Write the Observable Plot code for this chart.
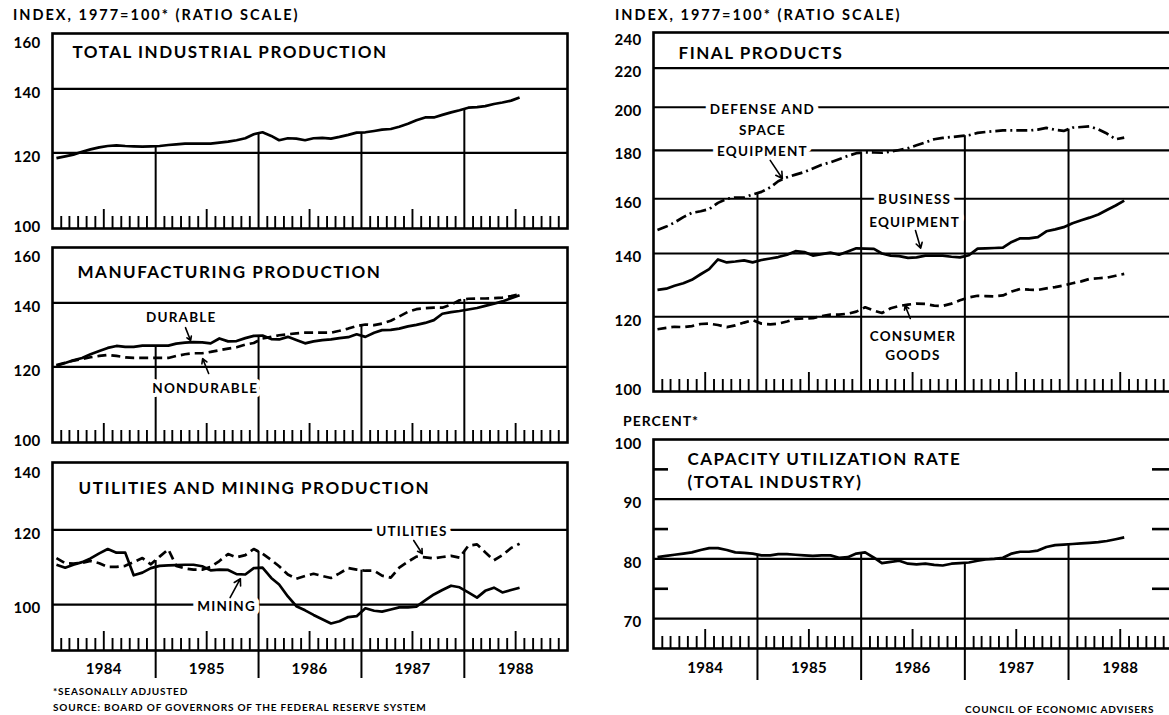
<!DOCTYPE html>
<html><head><meta charset="utf-8">
<script src="https://cdn.jsdelivr.net/npm/d3@7"></script>
<script src="https://cdn.jsdelivr.net/npm/@observablehq/plot@0.6"></script>
<style>
html,body{margin:0;padding:0;background:#fff;}
#chart{position:relative;width:1169px;height:715px;overflow:hidden;background:#fff;}
#chart g[font-family="Lato, sans-serif"]{letter-spacing:0.09em;}
#chart g[font-family="Lato, DejaVu Sans, sans-serif"]{letter-spacing:0.02em;}
</style></head><body><div id="chart"></div>
<script>
// ---------- DATA (monthly, Jan 1984 – Jul 1988) ----------
const totalIP = [118.5,119.0,119.5,120.3,121.0,121.6,122.0,122.2,122.0,121.9,121.8,121.9,
  122.0,122.3,122.5,122.7,122.7,122.7,122.7,123.0,123.3,123.7,124.3,125.5,
  126.1,125.0,123.7,124.3,124.2,123.7,124.3,124.4,124.2,124.7,125.3,126.0,
  126.1,126.5,126.9,127.1,127.8,128.7,129.8,130.7,130.7,131.5,132.3,133.0,
  133.8,134.0,134.3,135.0,135.5,136.1,137.1];
const durable = [120.3,121.1,121.9,122.6,123.7,124.7,125.6,126.2,125.9,125.9,126.3,126.3,
  126.3,126.3,126.9,127.2,127.4,127.3,127.0,128.5,127.6,127.7,128.6,129.3,
  129.4,128.3,128.2,129.0,128.0,127.0,127.6,128.0,128.2,128.6,128.9,129.8,
  129.0,130.3,131.1,131.2,131.6,132.3,132.8,133.4,134.3,136.4,136.9,137.3,
  137.8,138.3,139.0,139.7,140.5,141.6,142.6];
const nondurable = [120.5,121.2,121.8,122.3,122.8,123.2,123.5,123.2,122.8,122.6,122.6,122.6,
  122.6,122.6,123.2,123.7,124.0,124.0,124.4,124.9,125.4,125.8,126.6,127.1,
  128.5,129.0,129.5,129.8,130.1,130.3,130.3,130.3,130.3,130.9,131.6,132.4,
  132.9,132.7,133.2,134.1,135.5,137.0,137.9,138.2,138.4,138.4,139.4,140.9,
  141.4,141.5,141.5,141.6,141.8,142.3,143.0];
const utilities = [112.0,110.6,110.5,110.7,111.2,110.6,109.6,109.6,109.9,110.9,112.0,110.3,
  112.4,114.4,109.9,109.2,108.9,108.9,109.6,111.2,113.1,112.2,112.8,114.5,
  113.2,111.5,109.8,107.6,106.5,107.2,107.8,107.2,106.7,107.9,109.3,108.9,
  108.6,108.6,107.3,106.8,109.4,111.0,112.4,112.2,111.9,112.3,112.6,112.1,
  115.4,115.8,113.6,111.4,112.8,114.8,116.0];
const mining = [110.2,109.4,110.2,110.9,111.9,113.3,114.5,113.5,113.5,107.4,108.1,109.3,
  109.9,110.0,110.1,110.2,110.2,109.8,108.7,108.9,108.8,107.7,107.6,109.3,
  109.4,106.7,105.0,102.0,99.6,98.6,97.5,96.5,95.5,96.0,97.0,97.2,
  99.1,98.5,98.3,98.8,99.3,99.3,99.5,101.0,102.5,103.6,104.7,104.3,
  103.0,101.7,103.4,104.2,103.0,103.6,104.2];
const businessEq = [128.1,128.5,129.4,130.2,131.3,133.1,134.8,138.0,137.0,137.3,137.7,137.0,
  137.8,138.3,138.8,139.6,140.8,140.5,139.3,139.8,140.3,139.6,140.7,141.8,
  141.7,141.6,140.0,139.3,139.1,138.5,138.7,139.3,139.3,139.3,138.9,138.7,
  139.4,141.7,141.8,141.9,142.0,144.0,145.3,145.3,145.7,147.8,148.5,149.3,
  150.7,151.8,152.8,154.0,155.7,157.4,159.3];
const consumerGoods = [116.4,116.8,117.1,117.0,117.3,117.9,118.0,117.6,117.0,117.5,118.3,119.0,
  118.0,117.8,118.0,118.6,119.4,119.5,119.6,120.2,120.6,120.6,120.9,121.5,
  122.8,121.8,121.1,122.5,123.2,123.6,123.9,123.8,123.3,123.2,123.9,124.9,
  125.8,126.3,126.2,126.1,126.4,127.6,128.4,128.2,128.1,128.6,129.0,129.5,
  130.2,130.8,131.6,131.8,132.0,132.6,133.2];
const defenseSpace = [148.3,149.5,151.0,153.0,154.6,155.2,156.0,158.4,160.0,160.5,160.5,161.7,
  162.7,164.5,167.0,168.6,169.7,170.8,172.3,173.8,174.9,176.2,177.6,178.8,
  179.2,179.1,179.0,179.5,180.2,181.0,182.3,183.6,185.0,185.6,186.0,186.4,
  186.8,187.9,188.3,188.7,189.0,189.0,189.0,189.0,189.4,190.2,189.3,188.8,
  190.3,190.6,190.9,189.5,187.6,185.0,185.7];
const capacityUtil = [80.3,80.5,80.7,80.9,81.1,81.5,81.8,81.8,81.5,81.1,81.0,80.9,
  80.6,80.6,80.8,80.8,80.7,80.6,80.5,80.6,80.6,80.2,80.3,80.9,
  81.1,80.2,79.3,79.5,79.7,79.2,79.1,79.2,79.0,78.9,79.2,79.3,
  79.4,79.7,79.9,80.0,80.2,80.9,81.2,81.2,81.4,82.0,82.3,82.4,
  82.5,82.6,82.7,82.8,83.0,83.3,83.6];
const years = [1984, 1985, 1986, 1987, 1988];
const idxTicks = [160, 140, 120, 100];
const fpTicks = [240, 220, 200, 180, 160, 140, 120, 100];
const umTicks = [140, 120, 100];
const cuTicks = [100, 90, 80, 70];
const cuMinor = [95, 85, 75];

// ---------- helpers ----------
const chart = document.getElementById("chart");
const WORD = "Lato, sans-serif";
const NUM = "Lato, DejaVu Sans, sans-serif";
const WEIGHT = "bold";
const t0 = Date.UTC(1984, 0, 1);
const mdate = (m) => new Date(t0 + m * 30.436875 * 864e5);
const monthDates = totalIP.map((_, i) => new Date(Date.UTC(1984, i, 15)));
const ser = (vals) => vals.map((v, i) => ({date: monthDates[i], value: v}));
const monthBounds = d3.range(1, 60).map(i => new Date(Date.UTC(1984, i, 1)));
const minorTicks = monthBounds.filter(d => d.getUTCMonth() !== 0 && d.getUTCMonth() !== 6);
const julyTicks = monthBounds.filter(d => d.getUTCMonth() === 6);
const yearStarts = years.slice(1).map(y => new Date(Date.UTC(y, 0, 1)));
const yearMids = years.map(y => new Date(Date.UTC(y, 6, 1)));
const xDomain = [new Date(Date.UTC(1984, 0, 1)), new Date(Date.UTC(1989, 0, 1))];
const boundaryValue = (vals, d) => { const i = (d.getUTCFullYear() - 1984) * 12; return (vals[i - 1] + vals[i]) / 2; };

function makePanel(p) {
  const W = p.mLeft + p.frameW + p.mRight;
  const H = p.mTop + p.frameH + p.mBottom;
  const marks = [];
  marks.push(Plot.ruleY(p.grid, {stroke: "#000", strokeWidth: 2.2}));
  marks.push(Plot.ruleX(minorTicks, {x: d => d, stroke: "#000", strokeWidth: 1.9, insetTop: p.frameH - 12}));
  marks.push(Plot.ruleX(julyTicks, {x: d => d, stroke: "#000", strokeWidth: 1.9, insetTop: p.frameH - 19}));
  const yl = yearStarts.map(d => ({date: d, top: d3.max(p.series, s => boundaryValue(s.values, d))}));
  marks.push(Plot.ruleX(yl, {x: "date", y1: () => p.yDomain[0], y2: "top", stroke: "#000", strokeWidth: 2}));
  if (p.yearLabels) {
    marks.push(Plot.ruleX(yearStarts, {x: d => d, stroke: "#000", strokeWidth: 2, insetTop: p.frameH, insetBottom: -p.yearExt}));
    marks.push(Plot.text(yearMids, {x: d => d, text: d => String(d.getUTCFullYear()), frameAnchor: "bottom", lineAnchor: "bottom", dy: p.yearDy, fontSize: 15, fontWeight: WEIGHT, fontFamily: NUM, fill: "#000"}));
  }
  if (p.sideTicks) {
    marks.push(Plot.ruleY(p.sideTicks, {y: d => d, stroke: "#000", strokeWidth: 2.6, insetRight: p.frameW - 15}));
    marks.push(Plot.ruleY(p.sideTicks, {y: d => d, stroke: "#000", strokeWidth: 2.6, insetLeft: p.frameW - 20}));
  }
  for (const s of p.series) {
    marks.push(Plot.line(ser(s.values), {x: "date", y: "value", stroke: "#000", strokeWidth: 2.7, strokeDasharray: s.dash, strokeLinejoin: "round", strokeLinecap: "butt"}));
  }
  p.labels.forEach((v, i) => {
    const dy = i === 0 ? p.topDy : (v === p.yDomain[0] ? -1 : 4);
    marks.push(Plot.text([v], {y: d => d, text: d => String(d), frameAnchor: "left", textAnchor: "end", lineAnchor: "middle", dx: -12, dy, fontSize: 15, fontWeight: WEIGHT, fontFamily: NUM, fill: "#000"}));
  });
  marks.push(Plot.text([p.title], {text: d => d, frameAnchor: "top-left", textAnchor: "start", lineAnchor: "bottom", dx: p.titleDx, dy: p.titleDy, fontSize: 17, fontWeight: WEIGHT, fontFamily: WORD, lineHeight: 1.35, fill: "#000"}));
  for (const a of (p.notes || [])) {
    marks.push(Plot.text([a], {x: d => mdate(d.m), y: d => d.v, text: d => d.text, textAnchor: "middle", lineAnchor: "bottom", lineHeight: a.lh || 1.2, fontSize: 13.5, fontWeight: WEIGHT, fontFamily: WORD, fill: "#000", stroke: "#fff", strokeWidth: a.halo || 8}));
    marks.push(Plot.arrow([a], {x1: d => mdate(d.am1), y1: d => d.av1, x2: d => mdate(d.am2), y2: d => d.av2, stroke: "#000", strokeWidth: 1.6, headLength: 7}));
  }
  marks.push(Plot.frame({stroke: "#000", strokeWidth: 2.6}));
  const svg = Plot.plot({
    width: W, height: H,
    marginLeft: p.mLeft, marginRight: p.mRight, marginTop: p.mTop, marginBottom: p.mBottom,
    x: {type: "utc", domain: xDomain, axis: null},
    y: {type: p.yType, domain: p.yDomain, axis: null},
    style: {background: "transparent", overflow: "visible", color: "#000"},
    marks
  });
  svg.style.position = "absolute";
  svg.style.left = p.left + "px";
  svg.style.top = p.top + "px";
  chart.appendChild(svg);
}

// Left column
makePanel({left: 0, top: 25, mLeft: 52, frameW: 515, mRight: 4, mTop: 8, frameH: 195, mBottom: 4,
  yType: "log", yDomain: [100, 160], grid: [140, 120], labels: idxTicks, topDy: 10,
  title: "TOTAL INDUSTRIAL PRODUCTION", titleDx: 20, titleDy: 24,
  series: [{values: totalIP}]});

makePanel({left: 0, top: 239, mLeft: 52, frameW: 515, mRight: 4, mTop: 8, frameH: 195, mBottom: 4,
  yType: "log", yDomain: [100, 160], grid: [140, 120], labels: idxTicks, topDy: 10,
  title: "MANUFACTURING PRODUCTION", titleDx: 25, titleDy: 30,
  series: [{values: durable}, {values: nondurable, dash: "9,5"}],
  notes: [
    {text: "DURABLE", m: 15.0, v: 133.8, am1: 15.5, av1: 131.9, am2: 16.1, av2: 127.8, halo: 0},
    {text: "NONDURABLE", m: 17.8, v: 112.8, am1: 18.2, av1: 118.1, am2: 17.5, av2: 122.4, halo: 0}
  ]});

makePanel({left: 0, top: 454, mLeft: 52, frameW: 515, mRight: 4, mTop: 8, frameH: 188, mBottom: 30,
  yType: "log", yDomain: [89.4, 141.4], grid: [120, 100], labels: umTicks, topDy: 7,
  title: "UTILITIES AND MINING PRODUCTION", titleDx: 26, titleDy: 31,
  yearLabels: true, yearExt: 28, yearDy: 23,
  series: [{values: mining}, {values: utilities, dash: "9,5"}],
  notes: [
    {text: "UTILITIES", m: 41.9, v: 118.3, am1: 42.1, av1: 116.9, am2: 43.1, av2: 113.2, halo: 10},
    {text: "MINING", m: 20.3, v: 98.4, am1: 20.7, av1: 101.7, am2: 21.9, av2: 106.5, halo: 10}
  ]});

// Right column
makePanel({left: 600, top: 24, mLeft: 53, frameW: 519, mRight: 4, mTop: 8, frameH: 359, mBottom: 4,
  yType: "log", yDomain: [100, 240], grid: [220, 200, 180, 160, 140, 120], labels: fpTicks, topDy: 8,
  title: "FINAL PRODUCTS", titleDx: 25, titleDy: 26,
  series: [{values: businessEq}, {values: consumerGoods, dash: "9,5"}, {values: defenseSpace, dash: "11,4,2,4"}],
  notes: [
    {text: "DEFENSE AND\nSPACE\nEQUIPMENT", m: 12.6, v: 177.8, lh: 1.55, am1: 13.5, av1: 175.7, am2: 14.9, av2: 168.1, halo: 10},
    {text: "BUSINESS\nEQUIPMENT", m: 30.2, v: 149.5, lh: 1.65, am1: 30.3, av1: 148.1, am2: 30.9, av2: 141.8, halo: 10},
    {text: "CONSUMER\nGOODS", m: 30.0, v: 107.9, lh: 1.45, am1: 29.7, av1: 119.5, am2: 29.1, av2: 123.3, halo: 4}
  ]});

makePanel({left: 600, top: 431, mLeft: 53, frameW: 519, mRight: 4, mTop: 8, frameH: 209, mBottom: 36,
  yType: "linear", yDomain: [65, 100], grid: [90, 80, 70], labels: cuTicks, topDy: 5,
  sideTicks: cuMinor,
  title: "CAPACITY UTILIZATION RATE\n(TOTAL INDUSTRY)", titleDx: 34, titleDy: 48,
  yearLabels: true, yearExt: 32, yearDy: 24,
  series: [{values: capacityUtil}]});

// Free texts
const ov = d3.select(chart).append("svg").attr("width", 1169).attr("height", 715)
  .style("position", "absolute").style("left", 0).style("top", 0).style("pointer-events", "none")
  .attr("font-family", "Lato, sans-serif").attr("font-weight", "bold").attr("fill", "#000");
const txt = (x, y, s, size, ls, anchor = "start") => ov.append("text").attr("x", x).attr("y", y)
  .attr("font-size", size).attr("letter-spacing", ls).attr("text-anchor", anchor).text(s);
txt(13, 20, "INDEX, 1977=100*  (RATIO SCALE)", 14.5, 2);
txt(615, 20, "INDEX, 1977=100*  (RATIO SCALE)", 14.5, 2);
txt(623, 426, "PERCENT*", 14, 1);
txt(53, 695, "*SEASONALLY ADJUSTED", 10, 0.8);
txt(53, 711, "SOURCE:  BOARD OF GOVERNORS OF THE FEDERAL RESERVE SYSTEM", 10, 0.8);
txt(965, 713, "COUNCIL OF ECONOMIC ADVISERS", 10, 0.8);
</script></body></html>
